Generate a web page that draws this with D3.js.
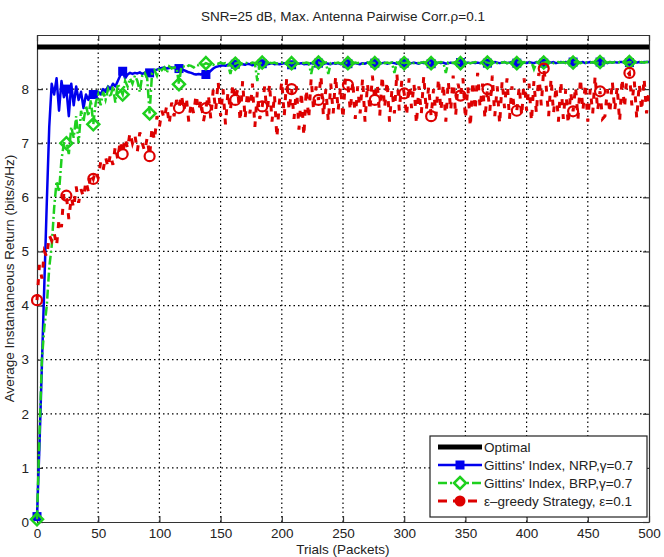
<!DOCTYPE html>
<html>
<head>
<meta charset="utf-8">
<script src="https://cdn.jsdelivr.net/npm/d3@7"></script>
<style>
  body { margin: 0; background: #fff; }
  text { font-family: "Liberation Sans", Arial, sans-serif; }
</style>
</head>
<body>
<div id="viz"></div>
<script>
const width = 664;
const height = 557;

// trial grid: one sample every 2 packets (0..500)
const trialStep = 2;
const markerTrials = d3.range(0, 500, 23);   // markers every 23 packets

const optimalValue = 8.78;

// Gittins' Index, NRP
const nrpValues = [
  0.1, 1.4, 2.9, 4.4, 5.9, 7.3, 8.1, 7.9, 8.2, 7.6,
  8.15, 7.85, 8.0, 7.5, 8.1, 7.7, 8.05, 7.8, 7.95, 7.65,
  7.9, 7.8, 7.95, 7.9, 7.85, 7.95, 7.9, 8.0, 7.95, 8.05,
  8.0, 8.1, 8.05, 8.15, 8.25, 8.33, 8.2, 8.27, 8.3, 8.28,
  8.3, 8.29, 8.31, 8.28, 8.3, 8.32, 8.3, 8.33, 8.35, 8.36,
  8.38, 8.39, 8.4, 8.38, 8.39, 8.4, 8.39, 8.41, 8.38, 8.37,
  8.35, 8.33, 8.31, 8.3, 8.28, 8.27, 8.28, 8.27, 8.3, 8.27,
  8.3, 8.34, 8.38, 8.41, 8.42, 8.43, 8.44, 8.43, 8.45, 8.44,
  8.45, 8.46, 8.45, 8.47, 8.46, 8.45, 8.47, 8.46, 8.44, 8.46,
  8.47, 8.46, 8.47, 8.45, 8.46, 8.47, 8.48, 8.46, 8.47, 8.46,
  8.47, 8.48, 8.46, 8.47, 8.45, 8.46, 8.48, 8.47, 8.48, 8.46,
  8.47, 8.46, 8.48, 8.47, 8.46, 8.48, 8.47, 8.46, 8.48, 8.47,
  8.46, 8.48, 8.47, 8.48, 8.46, 8.47, 8.48, 8.47, 8.49, 8.47,
  8.48, 8.47, 8.46, 8.48, 8.47, 8.49, 8.48, 8.47, 8.48, 8.49,
  8.47, 8.48, 8.49, 8.47, 8.48, 8.49, 8.48, 8.47, 8.49, 8.48,
  8.48, 8.49, 8.47, 8.48, 8.49, 8.48, 8.47, 8.49, 8.48, 8.49,
  8.48, 8.47, 8.49, 8.48, 8.49, 8.48, 8.49, 8.47, 8.48, 8.49,
  8.48, 8.49, 8.48, 8.49, 8.47, 8.48, 8.49, 8.48, 8.49, 8.48,
  8.49, 8.48, 8.49, 8.5, 8.48, 8.49, 8.48, 8.5, 8.49, 8.48,
  8.49, 8.5, 8.48, 8.49, 8.5, 8.49, 8.48, 8.49, 8.5, 8.49,
  8.48, 8.5, 8.49, 8.48, 8.5, 8.49, 8.5, 8.48, 8.49, 8.5,
  8.49, 8.5, 8.48, 8.49, 8.5, 8.49, 8.5, 8.49, 8.48, 8.5,
  8.49, 8.5, 8.49, 8.5, 8.48, 8.49, 8.5, 8.49, 8.5, 8.49,
  8.5, 8.49, 8.5, 8.48, 8.5, 8.49, 8.5, 8.49, 8.5, 8.5,
  8.49, 8.5, 8.49, 8.5, 8.5, 8.49, 8.5, 8.49, 8.5, 8.5,
  8.5
];

// Gittins' Index, BRP
const brpValues = [
  0.05, 1.6, 3.0, 3.6, 4.0, 4.7, 5.1, 5.8, 6.3, 6.1,
  6.7, 7.0, 7.0, 6.8, 7.3, 7.1, 7.5, 7.0, 7.6, 7.4,
  7.7, 7.5, 7.8, 7.35, 7.75, 7.9, 7.7, 7.95, 7.8, 8.0,
  7.85, 8.05, 7.75, 8.1, 8.0, 7.9, 8.15, 8.05, 8.2, 8.1,
  8.25, 8.15, 7.95, 8.25, 8.3, 8.2, 7.55, 8.3, 8.35, 8.25,
  8.4, 8.35, 8.4, 8.3, 8.42, 8.38, 8.4, 8.4, 8.09, 8.42,
  8.42, 8.4, 8.44, 8.43, 8.4, 8.45, 8.44, 8.46, 8.45, 8.48,
  8.46, 8.47, 8.45, 8.48, 8.47, 8.49, 8.47, 8.48, 8.46, 8.28,
  8.48, 8.47, 8.49, 8.48, 8.47, 8.49, 8.48, 8.47, 8.49, 8.48,
  8.15, 8.48, 8.49, 8.48, 8.47, 8.49, 8.48, 8.49, 8.47, 8.48,
  8.49, 8.48, 8.47, 8.49, 8.48, 8.49, 8.48, 8.47, 8.49, 8.48,
  8.49, 8.48, 8.28, 8.49, 8.48, 8.49, 8.47, 8.48, 8.49, 8.28,
  8.48, 8.49, 8.48, 8.49, 8.47, 8.48, 8.49, 8.48, 8.49, 8.48,
  8.49, 8.48, 8.49, 8.47, 8.48, 8.49, 8.48, 8.49, 8.48, 8.49,
  8.48, 8.49, 8.48, 8.49, 8.48, 8.49, 8.3, 8.49, 8.48, 8.49,
  8.48, 8.49, 8.48, 8.49, 8.48, 8.49, 8.48, 8.49, 8.5, 8.48,
  8.49, 8.48, 8.49, 8.48, 8.49, 8.5, 8.49, 8.3, 8.49, 8.48,
  8.49, 8.5, 8.49, 8.48, 8.49, 8.5, 8.49, 8.48, 8.49, 8.5,
  8.49, 8.48, 8.49, 8.5, 8.49, 8.48, 8.5, 8.49, 8.48, 8.5,
  8.49, 8.5, 8.48, 8.49, 8.5, 8.49, 8.48, 8.5, 8.49, 8.5,
  8.48, 8.49, 8.5, 8.37, 8.49, 8.5, 8.48, 8.49, 8.5, 8.49,
  8.5, 8.48, 8.49, 8.5, 8.49, 8.5, 8.48, 8.49, 8.5, 8.49,
  8.5, 8.49, 8.48, 8.5, 8.49, 8.5, 8.49, 8.5, 8.48, 8.49,
  8.5, 8.49, 8.5, 8.49, 8.5, 8.49, 8.5, 8.48, 8.5, 8.49,
  8.5, 8.49, 8.5, 8.49, 8.5, 8.5, 8.49, 8.5, 8.49, 8.5,
  8.5
];

// epsilon-greedy strategy
const greedyValues = [
  4.1, 4.75, 4.5, 5.0, 4.9, 5.3, 5.2, 5.35, 5.1, 5.6,
  5.45, 6.1, 6.03, 5.6, 6.0, 5.8, 6.2, 5.9, 6.15, 6.0,
  6.3, 6.1, 6.45, 6.34, 6.5, 6.35, 6.65, 6.5, 6.75, 6.55,
  6.8, 6.6, 6.95, 6.7, 7.05, 6.8, 7.1, 6.9, 7.2, 7.0,
  7.15, 6.85, 7.2, 7.0, 6.85, 7.1, 6.76, 7.3, 7.05, 7.5,
  7.3, 7.6, 7.45, 7.7, 7.35, 7.75, 7.5, 7.8, 7.65, 7.9,
  7.6, 7.85, 7.4, 7.75, 7.55, 7.9, 7.6, 7.8, 7.4, 7.65,
  7.9, 7.45, 8.0, 7.6, 8.15, 7.5, 8.0, 7.35, 7.95, 7.6,
  8.1, 7.8, 8.0, 7.4, 8.15, 7.45, 7.95, 7.55, 8.1, 7.3,
  7.95, 7.45, 7.68, 8.05, 7.5, 8.1, 7.4, 7.9, 7.1, 7.75,
  8.15, 7.5, 8.2, 7.6, 8.0, 7.45, 8.05, 7.25, 7.95, 7.13,
  8.0, 7.45, 8.2, 7.6, 8.05, 7.8, 8.25, 7.5, 8.0, 7.4,
  8.1, 7.55, 8.25, 7.6, 8.05, 7.45, 8.2, 8.08, 7.6, 8.15,
  7.45, 8.05, 7.55, 8.2, 7.4, 8.1, 7.6, 8.25, 7.8, 8.1,
  7.5, 8.25, 7.65, 8.15, 7.4, 8.0, 7.55, 8.3, 7.6, 8.15,
  7.92, 7.5, 8.2, 7.65, 8.1, 7.35, 8.05, 7.55, 8.25, 7.6,
  8.05, 7.5, 8.0, 7.5, 8.2, 7.6, 8.1, 7.4, 8.15, 7.6,
  8.25, 7.5, 8.1, 7.88, 8.2, 7.45, 8.05, 7.3, 8.15, 7.6,
  8.3, 7.65, 8.1, 7.45, 8.0, 7.6, 8.25, 7.5, 8.05, 7.35,
  8.15, 7.65, 8.2, 7.45, 8.05, 7.6, 7.6, 8.05, 7.5, 8.2,
  7.6, 8.1, 7.4, 8.15, 7.55, 8.3, 7.7, 8.38, 8.05, 7.5,
  8.2, 7.55, 8.05, 7.4, 8.15, 7.45, 8.0, 7.35, 7.95, 7.59,
  8.05, 7.45, 8.2, 7.6, 8.1, 7.4, 8.0, 7.55, 8.25, 7.6,
  7.96, 7.45, 7.5, 8.0, 7.55, 8.15, 7.6, 8.05, 7.4, 8.2,
  7.65, 8.25, 8.3, 7.7, 8.15, 7.45, 8.1, 7.6, 8.2, 7.55,
  8.0
];

const xTicks = d3.range(0, 501, 50);
const yTicks = d3.range(0, 9, 1);

const legendLabels = [
  "Optimal",
  "Gittins' Index, NRP,\u03b3=0.7",
  "Gittins' Index, BRP,\u03b3=0.7",
  "\u03b5\u2013greedy Strategy, \u03b5=0.1"
];

const margin = { top: 35, right: 15, bottom: 35, left: 37 };
const plotW = width - margin.left - margin.right;
const plotH = height - margin.top - margin.bottom;
const fontSize = "13.5px";

const svg = d3.select("#viz")
  .append("svg")
  .attr("width", width)
  .attr("height", height);

const x = d3.scaleLinear().domain([0, 500]).range([margin.left, margin.left + plotW]);
const y = d3.scaleLinear().domain([0, 9]).range([margin.top + plotH, margin.top]);

// grid
const grid = svg.append("g")
  .attr("stroke", "#000")
  .attr("stroke-width", 1.2)
  .attr("stroke-dasharray", "1.5,3");

grid.selectAll(".gx")
  .data(xTicks.slice(1, -1))
  .join("line")
  .attr("x1", d => x(d)).attr("x2", d => x(d))
  .attr("y1", y(0)).attr("y2", y(9));

grid.selectAll(".gy")
  .data(yTicks.slice(1))
  .join("line")
  .attr("x1", x(0)).attr("x2", x(500))
  .attr("y1", d => y(d)).attr("y2", d => y(d));

// axes (MATLAB-style box with inward ticks)
const tickLen = -6;

const xAxisB = svg.append("g")
  .attr("transform", `translate(0,${y(0)})`)
  .call(d3.axisBottom(x).tickValues(xTicks).tickSizeInner(tickLen).tickSizeOuter(0).tickPadding(6));
const xAxisT = svg.append("g")
  .attr("transform", `translate(0,${y(9)})`)
  .call(d3.axisTop(x).tickValues(xTicks).tickSizeInner(tickLen).tickSizeOuter(0).tickFormat(""));
const yAxisL = svg.append("g")
  .attr("transform", `translate(${x(0)},0)`)
  .call(d3.axisLeft(y).tickValues(yTicks).tickSizeInner(tickLen).tickSizeOuter(0).tickPadding(8));
const yAxisR = svg.append("g")
  .attr("transform", `translate(${x(500)},0)`)
  .call(d3.axisRight(y).tickValues(yTicks).tickSizeInner(tickLen).tickSizeOuter(0).tickFormat(""));

[xAxisB, xAxisT, yAxisL, yAxisR].forEach(g => {
  g.select(".domain").attr("stroke", "#333").attr("stroke-width", 1.2);
  g.selectAll(".tick line").attr("stroke", "#333").attr("stroke-width", 1.2);
  g.selectAll("text")
    .style("font-family", "'Liberation Sans', Arial, sans-serif")
    .style("font-size", fontSize)
    .attr("fill", "#222");
});

// series
const nrp = nrpValues.map((v, i) => [i * trialStep, v]);
const brp = brpValues.map((v, i) => [i * trialStep, v]);
const greedy = greedyValues.map((v, i) => [i * trialStep, v]);

const line = d3.line().x(d => x(d[0])).y(d => y(d[1]));
const markerPts = data => markerTrials.map(t => data[Math.round(t / trialStep)]);

// optimal
svg.append("line")
  .attr("x1", x(0)).attr("x2", x(500))
  .attr("y1", y(optimalValue)).attr("y2", y(optimalValue))
  .attr("stroke", "#000")
  .attr("stroke-width", 5);

// NRP (blue, solid, squares)
svg.append("path")
  .datum(nrp)
  .attr("d", line)
  .attr("fill", "none")
  .attr("stroke", "#0000ee")
  .attr("stroke-width", 2.5)
  .attr("stroke-linejoin", "round");

svg.selectAll(".sq")
  .data(markerPts(nrp))
  .join("rect")
  .attr("x", d => x(d[0]) - 4.5)
  .attr("y", d => y(d[1]) - 4.5)
  .attr("width", 9).attr("height", 9)
  .attr("fill", "#0000ee");

// BRP (green, dash-dot, diamonds)
svg.append("path")
  .datum(brp)
  .attr("d", line)
  .attr("fill", "none")
  .attr("stroke", "#1ed01e")
  .attr("stroke-width", 2.5)
  .attr("stroke-dasharray", "9,3,2,3");

const diamond = (cx, cy, r) => `M${cx},${cy - r}L${cx + r},${cy}L${cx},${cy + r}L${cx - r},${cy}Z`;

svg.selectAll(".dm")
  .data(markerPts(brp))
  .join("path")
  .attr("d", d => diamond(x(d[0]), y(d[1]), 6))
  .attr("fill", "none")
  .attr("stroke", "#1ed01e")
  .attr("stroke-width", 2.5);

// epsilon-greedy (red, dashed, circles)
svg.append("path")
  .datum(greedy)
  .attr("d", line)
  .attr("fill", "none")
  .attr("stroke", "#dd0000")
  .attr("stroke-width", 3)
  .attr("stroke-dasharray", "6,9");

svg.selectAll(".ci")
  .data(markerPts(greedy))
  .join("circle")
  .attr("cx", d => x(d[0]))
  .attr("cy", d => y(d[1]))
  .attr("r", 5)
  .attr("fill", "none")
  .attr("stroke", "#dd0000")
  .attr("stroke-width", 2.2);

// titles
svg.append("text")
  .attr("x", x(250))
  .attr("y", 21)
  .attr("text-anchor", "middle")
  .style("font-size", fontSize)
  .attr("fill", "#222")
  .text("SNR=25 dB, Max. Antenna Pairwise Corr.\u03c1=0.1");

svg.append("text")
  .attr("x", x(250))
  .attr("y", 554)
  .attr("text-anchor", "middle")
  .style("font-size", fontSize)
  .attr("fill", "#222")
  .text("Trials (Packets)");

svg.append("text")
  .attr("transform", `translate(14,${y(4.5)}) rotate(-90)`)
  .attr("text-anchor", "middle")
  .style("font-size", fontSize)
  .attr("fill", "#222")
  .text("Average Instantaneous Return (bits/s/Hz)");

// legend
const lg = svg.append("g");
lg.append("rect")
  .attr("x", 430).attr("y", 436)
  .attr("width", 217).attr("height", 81)
  .attr("fill", "#fff")
  .attr("stroke", "#222")
  .attr("stroke-width", 1.2);

const rowY = i => 447 + i * 18;
const lx1 = 438, lx2 = 482, lmx = 460;

lg.append("line")
  .attr("x1", lx1).attr("x2", lx2).attr("y1", rowY(0)).attr("y2", rowY(0))
  .attr("stroke", "#000").attr("stroke-width", 5);

lg.append("line")
  .attr("x1", lx1).attr("x2", lx2).attr("y1", rowY(1)).attr("y2", rowY(1))
  .attr("stroke", "#0000ee").attr("stroke-width", 2.5);
lg.append("rect")
  .attr("x", lmx - 4.5).attr("y", rowY(1) - 4.5).attr("width", 9).attr("height", 9)
  .attr("fill", "#0000ee");

lg.append("line")
  .attr("x1", lx1).attr("x2", lx2).attr("y1", rowY(2)).attr("y2", rowY(2))
  .attr("stroke", "#1ed01e").attr("stroke-width", 2.5).attr("stroke-dasharray", "9,3,2,3");
lg.append("path")
  .attr("d", diamond(lmx, rowY(2), 6))
  .attr("fill", "#fff").attr("stroke", "#1ed01e").attr("stroke-width", 2.5);

lg.append("line")
  .attr("x1", lx1).attr("x2", lx2).attr("y1", rowY(3)).attr("y2", rowY(3))
  .attr("stroke", "#dd0000").attr("stroke-width", 3).attr("stroke-dasharray", "9,6");
lg.append("circle")
  .attr("cx", lmx).attr("cy", rowY(3)).attr("r", 5.5)
  .attr("fill", "#dd0000");

lg.selectAll(".lt")
  .data(legendLabels)
  .join("text")
  .attr("x", 484)
  .attr("y", (d, i) => rowY(i) + 5)
  .style("font-size", fontSize)
  .attr("fill", "#222")
  .text(d => d);
</script>
</body>
</html>
